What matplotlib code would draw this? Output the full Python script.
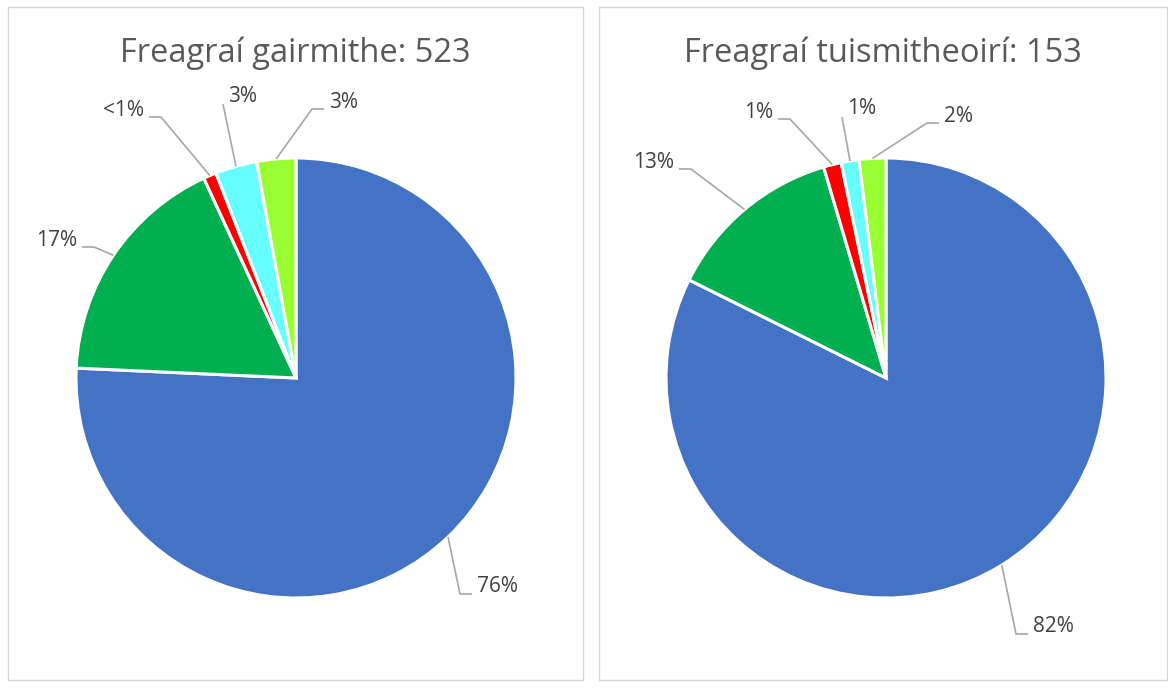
import matplotlib
matplotlib.use("Agg")
import numpy as np
import matplotlib.pyplot as plt

plt.rcParams['font.family'] = ['Open Sans', 'DejaVu Sans']

# slice colours, same order in both charts
colors = ['#4472C4', '#00B050', '#FF0000', '#66FFFF', '#99FF33']

left_title = 'Freagraí gairmithe: 523'
left_counts = [396, 91, 5, 16, 15]
left_labels = ['76%', '17%', '<1%', '3%', '3%']

right_title = 'Freagraí tuismitheoirí: 153'
right_counts = [126, 20, 2, 2, 3]
right_labels = ['82%', '13%', '1%', '1%', '2%']

# layout (pixels, relative to pie centre, y up): label x, y, alignment, leader kind
left_label_pos = [(181, -209, 'left', 'stub'), (-219, 138, 'right', 'stub'),
                  (-152, 268, 'right', 'stub'), (-68, 282, 'left', 'direct'),
                  (33, 276, 'left', 'stub')]
right_label_pos = [(147, -249, 'left', 'stub'), (-212, 216, 'right', 'stub'),
                   (-113, 266, 'right', 'stub'), (-39, 269, 'left', 'direct'),
                   (58, 262, 'left', 'stub')]

W, H = 1168, 694
R = 220  # pie radius in px

fig = plt.figure(figsize=(W / 100, H / 100), dpi=100, facecolor='white')


def draw_panel(box, centre, title, counts, labels, label_pos):
    x0, y0, x1, y1 = box
    cx, cy = centre
    ax = fig.add_axes([x0 / W, (H - y1) / H, (x1 - x0) / W, (y1 - y0) / H])
    wedges, _ = ax.pie(counts, colors=colors, startangle=90, counterclock=False,
                       radius=R, wedgeprops=dict(edgecolor='white', linewidth=2.2))
    ax.set_aspect('auto')
    ax.set_xlim(x0 - cx, x1 - cx)
    ax.set_ylim(cy - y1, cy - y0)
    ax.set_frame_on(True)
    ax.set_xticks([])
    ax.set_yticks([])
    for sp in ax.spines.values():
        sp.set_color('#D9D9D9')
        sp.set_linewidth(1.0)

    ax.text((x0 + x1) / 2 - cx, cy - 62, title, ha='center', va='baseline',
            fontsize=23.5, color='#595959')

    for w, lab, (tx, ty, ha, kind) in zip(wedges, labels, label_pos):
        mid = np.deg2rad((w.theta1 + w.theta2) / 2)
        start = (R * np.cos(mid), R * np.sin(mid))
        if kind == 'stub':
            s = 1 if ha == 'left' else -1
            pts = [start, (tx - s * 17, ty - 7), (tx - s * 5, ty - 7)]
        else:
            pts = [start, (tx - 5, ty - 8)]
        xs, ys = zip(*pts)
        ax.plot(xs, ys, color='#A6A6A6', linewidth=1.2, solid_capstyle='butt')
        ax.text(tx, ty, lab, ha=ha, va='center', fontsize=15, color='#404040')


draw_panel((8, 7, 583, 680), (296, 378), left_title, left_counts, left_labels, left_label_pos)
draw_panel((599, 7, 1167, 680), (886, 378), right_title, right_counts, right_labels, right_label_pos)

fig.savefig('out.png', dpi=100, facecolor='white')
